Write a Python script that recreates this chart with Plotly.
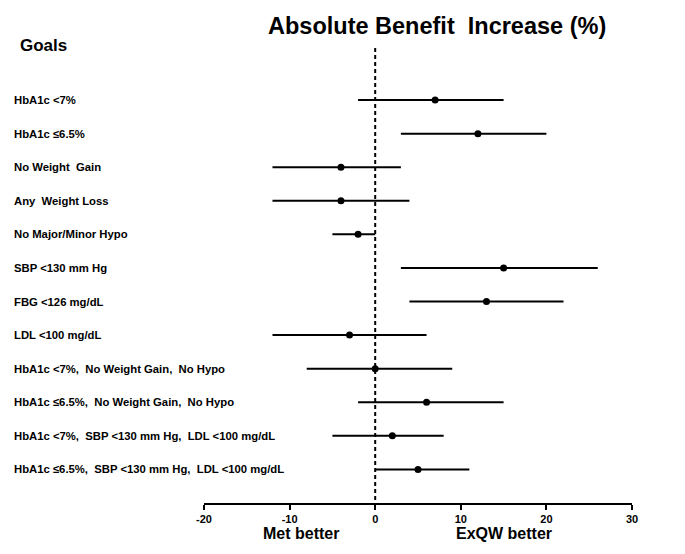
import plotly.graph_objects as go

goals = [
    "HbA1c <7%",
    "HbA1c ≤6.5%",
    "No Weight  Gain",
    "Any  Weight Loss",
    "No Major/Minor Hypo",
    "SBP <130 mm Hg",
    "FBG <126 mg/dL",
    "LDL <100 mg/dL",
    "HbA1c <7%,  No Weight Gain,  No Hypo",
    "HbA1c ≤6.5%,  No Weight Gain,  No Hypo",
    "HbA1c <7%,  SBP <130 mm Hg,  LDL <100 mg/dL",
    "HbA1c ≤6.5%,  SBP <130 mm Hg,  LDL <100 mg/dL",
]
estimate = [7, 12, -4, -4, -2, 15, 13, -3, 0, 6, 2, 5]
ci_low = [-2, 3, -12, -12, -5, 3, 4, -12, -8, -2, -5, 0]
ci_high = [15, 20, 3, 4, 0, 26, 22, 6, 9, 15, 8, 11]
x_ticks = [-20, -10, 0, 10, 20, 30]

rows = list(range(1, len(goals) + 1))
err_plus = [h - e for h, e in zip(ci_high, estimate)]
err_minus = [e - l for e, l in zip(estimate, ci_low)]

# page body has an 8px default margin; compensate so screen positions match
OFF = 8
W, H = 685 - OFF, 554 - OFF
PL, PR, PT, PB = 204, 632, 48, 503  # plot area in screen pixels
L, R, T, B = PL - OFF, 685 - PR, PT - OFF, 554 - PB
pw = PR - PL
ph = PB - PT

def px_x(p):
    return (p - PL) / pw

def px_y(p):
    return (PB - p) / ph

fig = go.Figure()
fig.add_shape(type="line", x0=0, x1=0, y0=-0.55, y1=13, xref="x", yref="y",
              line=dict(color="black", width=2, dash="4px,3px"), layer="below")
fig.add_trace(go.Scatter(
    x=estimate, y=rows, mode="markers",
    marker=dict(color="black", size=7),
    error_x=dict(type="data", symmetric=False, array=err_plus, arrayminus=err_minus,
                 color="black", thickness=2, width=0),
    hoverinfo="x+y", showlegend=False,
))

bold = dict(family="Liberation Sans, Arial, sans-serif", color="black", weight="bold")
narrow = "Liberation Sans Narrow, Liberation Sans, Arial"

annotations = []
for r, g in zip(rows, goals):
    annotations.append(dict(x=px_x(12), xref="paper", y=r, yref="y", text=g,
                            xanchor="left", yanchor="middle", showarrow=False,
                            font=dict(size=11.3, **bold)))
annotations.append(dict(x=px_x(18), xref="paper", y=px_y(45), yref="paper", text="Goals",
                        xanchor="left", yanchor="middle", showarrow=False,
                        font=dict(size=17, family=narrow, color="black", weight="bold")))
annotations.append(dict(x=px_x(437), xref="paper", y=px_y(26), yref="paper",
                        text="Absolute Benefit  Increase (%)",
                        xanchor="center", yanchor="middle", showarrow=False,
                        font=dict(size=23.5, family=narrow, color="black", weight="bold")))
annotations.append(dict(x=-8.7, xref="x", y=px_y(533), yref="paper", text="Met better",
                        xanchor="center", yanchor="middle", showarrow=False,
                        font=dict(size=16, **bold)))
annotations.append(dict(x=15.1, xref="x", y=px_y(533), yref="paper", text="ExQW better",
                        xanchor="center", yanchor="middle", showarrow=False,
                        font=dict(size=16, **bold)))

fig.update_layout(
    width=W, height=H,
    margin=dict(l=L, r=R, t=T, b=B),
    paper_bgcolor="white", plot_bgcolor="white",
    annotations=annotations,
    xaxis=dict(range=[-20, 30], tickvals=x_ticks, ticktext=[str(v) for v in x_ticks],
               showgrid=False, zeroline=False, showline=True, linecolor="black", linewidth=2,
               ticks="outside", ticklen=5, tickwidth=2, tickcolor="black",
               tickfont=dict(size=11, **bold), fixedrange=True),
    yaxis=dict(range=[13, -0.55], showgrid=False, zeroline=False, showline=False,
               showticklabels=False, ticks="", fixedrange=True),
)

fig.write_html("out.html")
